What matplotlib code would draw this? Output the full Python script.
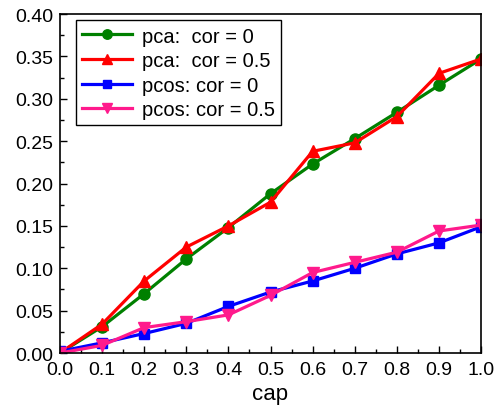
import matplotlib
matplotlib.use("Agg")
import matplotlib.pyplot as plt
from matplotlib.ticker import MultipleLocator, FormatStrFormatter

plt.rcParams['font.family'] = ['Liberation Sans', 'DejaVu Sans']

cap = [0.0, 0.1, 0.2, 0.3, 0.4, 0.5, 0.6, 0.7, 0.8, 0.9, 1.0]
pca_cor0 = [0.0, 0.031, 0.070, 0.111, 0.148, 0.188, 0.223, 0.253, 0.284, 0.316, 0.347]
pca_cor05 = [0.0, 0.034, 0.085, 0.125, 0.150, 0.178, 0.238, 0.248, 0.279, 0.330, 0.347]
pcos_cor0 = [0.002, 0.012, 0.023, 0.035, 0.055, 0.072, 0.085, 0.100, 0.117, 0.130, 0.149]
pcos_cor05 = [0.0, 0.009, 0.030, 0.037, 0.045, 0.068, 0.095, 0.107, 0.119, 0.144, 0.151]
labels = ['pca:  cor = 0', 'pca:  cor = 0.5', 'pcos: cor = 0', 'pcos: cor = 0.5']

fig = plt.figure(figsize=(4.95, 4.06), dpi=100)
ax = fig.add_axes([0.121, 0.128, 0.851, 0.835])

lw = 2.3
ms = 8
ax.plot(cap, pca_cor0, color='#008000', marker='o', lw=lw, ms=ms, label=labels[0])
ax.plot(cap, pca_cor05, color='#ff0000', marker='^', lw=lw, ms=ms + 1, label=labels[1])
ax.plot(cap, pcos_cor0, color='#0000ff', marker='s', lw=lw, ms=ms - 1, label=labels[2])
ax.plot(cap, pcos_cor05, color='#ff1a8c', marker='v', lw=lw, ms=ms + 1, label=labels[3])

ax.set_xlim(0, 1.0)
ax.set_ylim(0, 0.40)
ax.xaxis.set_major_locator(MultipleLocator(0.1))
ax.xaxis.set_minor_locator(MultipleLocator(0.05))
ax.yaxis.set_major_locator(MultipleLocator(0.05))
ax.yaxis.set_minor_locator(MultipleLocator(0.025))
ax.xaxis.set_major_formatter(FormatStrFormatter('%.1f'))
ax.yaxis.set_major_formatter(FormatStrFormatter('%.2f'))
ax.tick_params(which='both', direction='in', top=False, right=False, labelsize=14)
ax.tick_params(which='major', length=5, width=1)
ax.tick_params(which='minor', length=3, width=1)
ax.tick_params(axis='x', which='major', pad=6)
ax.tick_params(axis='y', which='major', pad=5)
for s in ax.spines.values():
    s.set_linewidth(1.2)
ax.set_xlabel('cap', fontsize=16, labelpad=3)

leg = ax.legend(loc='upper left', bbox_to_anchor=(0.038, 0.981), borderaxespad=0,
                fontsize=14.5, frameon=True, fancybox=False, framealpha=1,
                edgecolor='black', handlelength=2.5, borderpad=0.3, labelspacing=0.28,
                handletextpad=0.5, markerscale=0.85)
leg.get_frame().set_linewidth(1.0)

fig.savefig('out.png', dpi=100)
